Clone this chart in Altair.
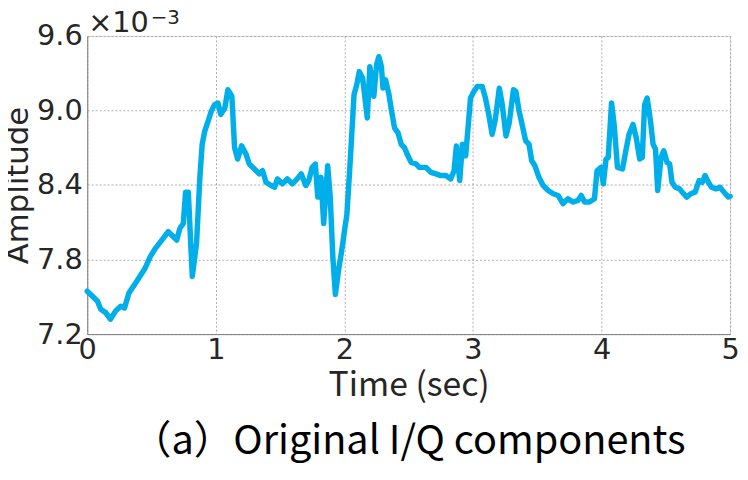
import altair as alt
import pandas as pd

# Time (sec)
time_s = [0.00, 0.04, 0.08, 0.105, 0.144, 0.18, 0.22, 0.26, 0.29, 0.324, 0.375, 0.41, 0.45, 0.49,
          0.53, 0.58, 0.63, 0.67, 0.696, 0.72, 0.747, 0.765, 0.786, 0.817, 0.85, 0.876, 0.894, 0.914,
          0.94, 0.965, 0.99, 1.017, 1.038, 1.07, 1.094, 1.125, 1.146, 1.17, 1.20, 1.235, 1.26, 1.30,
          1.338, 1.364, 1.39, 1.43, 1.458, 1.479, 1.518, 1.556, 1.595, 1.633, 1.664, 1.70, 1.723,
          1.749, 1.774, 1.793, 1.818, 1.839, 1.87, 1.89, 1.91, 1.93, 1.955, 1.98, 2.005, 2.019, 2.044,
          2.075, 2.096, 2.116, 2.142, 2.178, 2.198, 2.229, 2.25, 2.268, 2.288, 2.30, 2.32, 2.347,
          2.365, 2.39, 2.417, 2.442, 2.468, 2.494, 2.52, 2.558, 2.583, 2.635, 2.673, 2.712, 2.75,
          2.789, 2.827, 2.853, 2.871, 2.897, 2.918, 2.943, 2.964, 2.981, 3.007, 3.033, 3.072, 3.097,
          3.123, 3.149, 3.174, 3.205, 3.226, 3.257, 3.282, 3.315, 3.334, 3.359, 3.385, 3.41, 3.436,
          3.457, 3.482, 3.513, 3.546, 3.585, 3.624, 3.662, 3.70, 3.739, 3.777, 3.816, 3.842, 3.868,
          3.906, 3.945, 3.965, 3.996, 4.014, 4.035, 4.052, 4.078, 4.098, 4.124, 4.163, 4.189, 4.214,
          4.245, 4.27, 4.297, 4.317, 4.335, 4.355, 4.381, 4.401, 4.42, 4.437, 4.463, 4.484, 4.51,
          4.53, 4.548, 4.574, 4.607, 4.638, 4.663, 4.694, 4.728, 4.759, 4.784, 4.805, 4.831, 4.856,
          4.89, 4.921, 4.952, 4.985, 5.00]

# Amplitude (x 10^-3)
amplitude = [7.545, 7.505, 7.465, 7.40, 7.373, 7.32, 7.385, 7.425, 7.41, 7.53, 7.61, 7.665, 7.73,
             7.824, 7.89, 7.957, 8.024, 7.984, 7.957, 8.05, 8.09, 8.343, 8.343, 7.665, 7.93, 8.462,
             8.728, 8.834, 8.914, 8.994, 9.047, 9.06, 8.968, 9.02, 9.167, 9.114, 8.70, 8.609, 8.715,
             8.649, 8.569, 8.529, 8.49, 8.515, 8.422, 8.396, 8.382, 8.449, 8.409, 8.449, 8.409, 8.449,
             8.49, 8.396, 8.436, 8.542, 8.569, 8.303, 8.462, 8.09, 8.555, 8.303, 7.824, 7.519, 7.718,
             7.877, 8.063, 8.157, 8.569, 9.127, 9.207, 9.313, 9.26, 8.94, 9.353, 9.114, 9.366, 9.433,
             9.353, 9.18, 9.247, 9.127, 9.007, 8.86, 8.82, 8.728, 8.70, 8.635, 8.582, 8.569, 8.542,
             8.542, 8.502, 8.49, 8.476, 8.476, 8.449, 8.515, 8.715, 8.436, 8.728, 8.635, 8.888, 9.10,
             9.153, 9.193, 9.193, 9.10, 8.968, 8.808, 8.928, 9.18, 9.06, 8.795, 8.901, 9.167, 9.153,
             8.994, 8.874, 8.755, 8.728, 8.595, 8.555, 8.462, 8.396, 8.356, 8.33, 8.316, 8.25, 8.29,
             8.263, 8.276, 8.316, 8.263, 8.263, 8.29, 8.515, 8.542, 8.409, 8.609, 8.622, 9.06, 8.888,
             8.542, 8.529, 8.675, 8.808, 8.888, 8.781, 8.609, 8.622, 9.047, 9.10, 8.914, 8.728, 8.688,
             8.356, 8.622, 8.675, 8.582, 8.569, 8.422, 8.382, 8.369, 8.33, 8.303, 8.33, 8.343, 8.436,
             8.422, 8.476, 8.422, 8.382, 8.369, 8.382, 8.343, 8.303, 8.31]

x_ticks = [0, 1, 2, 3, 4, 5]
y_ticks = [7.2, 7.8, 8.4, 9.0, 9.6]
exp_base = ["×10"]
exp_power = ["−3"]
caption = "（a）Original I/Q components"

df = pd.DataFrame({"t": time_s, "a": amplitude})

label_color = "#262626"

line = alt.Chart(df).mark_line(
    color="#00AEEA", strokeWidth=5.5, strokeJoin="round", strokeCap="round"
).encode(
    x=alt.X("t:Q",
            scale=alt.Scale(domain=[0, 5], nice=False, zero=False),
            axis=alt.Axis(values=x_ticks, format="d", title="Time (sec)",
                          labelFontSize=29, labelFont="DejaVu Sans", labelColor=label_color,
                          labelPadding=2, labelFlush=False, labelOverlap=False,
                          titleFont="Noto Sans CJK SC", titleFontSize=34, titleFontWeight="normal",
                          titleColor=label_color, titlePadding=4,
                          grid=True, gridDash=[2, 2], gridColor="#9a9a9a", gridWidth=0.8,
                          ticks=False, domainColor="#808080")),
    y=alt.Y("a:Q",
            scale=alt.Scale(domain=[7.2, 9.6], nice=False, zero=False),
            axis=alt.Axis(values=y_ticks, format=".1f", title="Amplitude",
                          labelFontSize=29, labelFont="DejaVu Sans", labelColor=label_color,
                          labelPadding=5, labelFlush=False, labelOverlap=False,
                          titleFont="DejaVu Sans", titleFontSize=31, titleFontWeight="normal",
                          titleColor=label_color, titlePadding=2,
                          grid=True, gridDash=[2, 2], gridColor="#9a9a9a", gridWidth=0.8,
                          ticks=False, domainColor="#808080")),
)

exp1 = alt.Chart(pd.DataFrame({"s": exp_base})).mark_text(
    align="left", baseline="alphabetic", font="DejaVu Sans", fontSize=29, color=label_color
).encode(x=alt.value(1), y=alt.value(-4), text="s:N")

exp2 = alt.Chart(pd.DataFrame({"s": exp_power})).mark_text(
    align="left", baseline="alphabetic", font="DejaVu Sans", fontSize=20, color=label_color
).encode(x=alt.value(64), y=alt.value(-12), text="s:N")

chart = alt.layer(line, exp1, exp2).properties(
    width=649,
    height=301,
    autosize=alt.AutoSizeParams(type="none"),
    padding={"left": 80, "top": 26, "right": 10, "bottom": 138},
    title=alt.TitleParams(text=caption, orient="bottom", anchor="middle",
                          font="Noto Sans CJK SC", fontSize=40, fontWeight="normal",
                          color="#000000", offset=20),
).configure_view(stroke="#808080", strokeWidth=1).configure(background="white")

chart.save("out.html", embed_options={"renderer": "svg", "actions": False})
